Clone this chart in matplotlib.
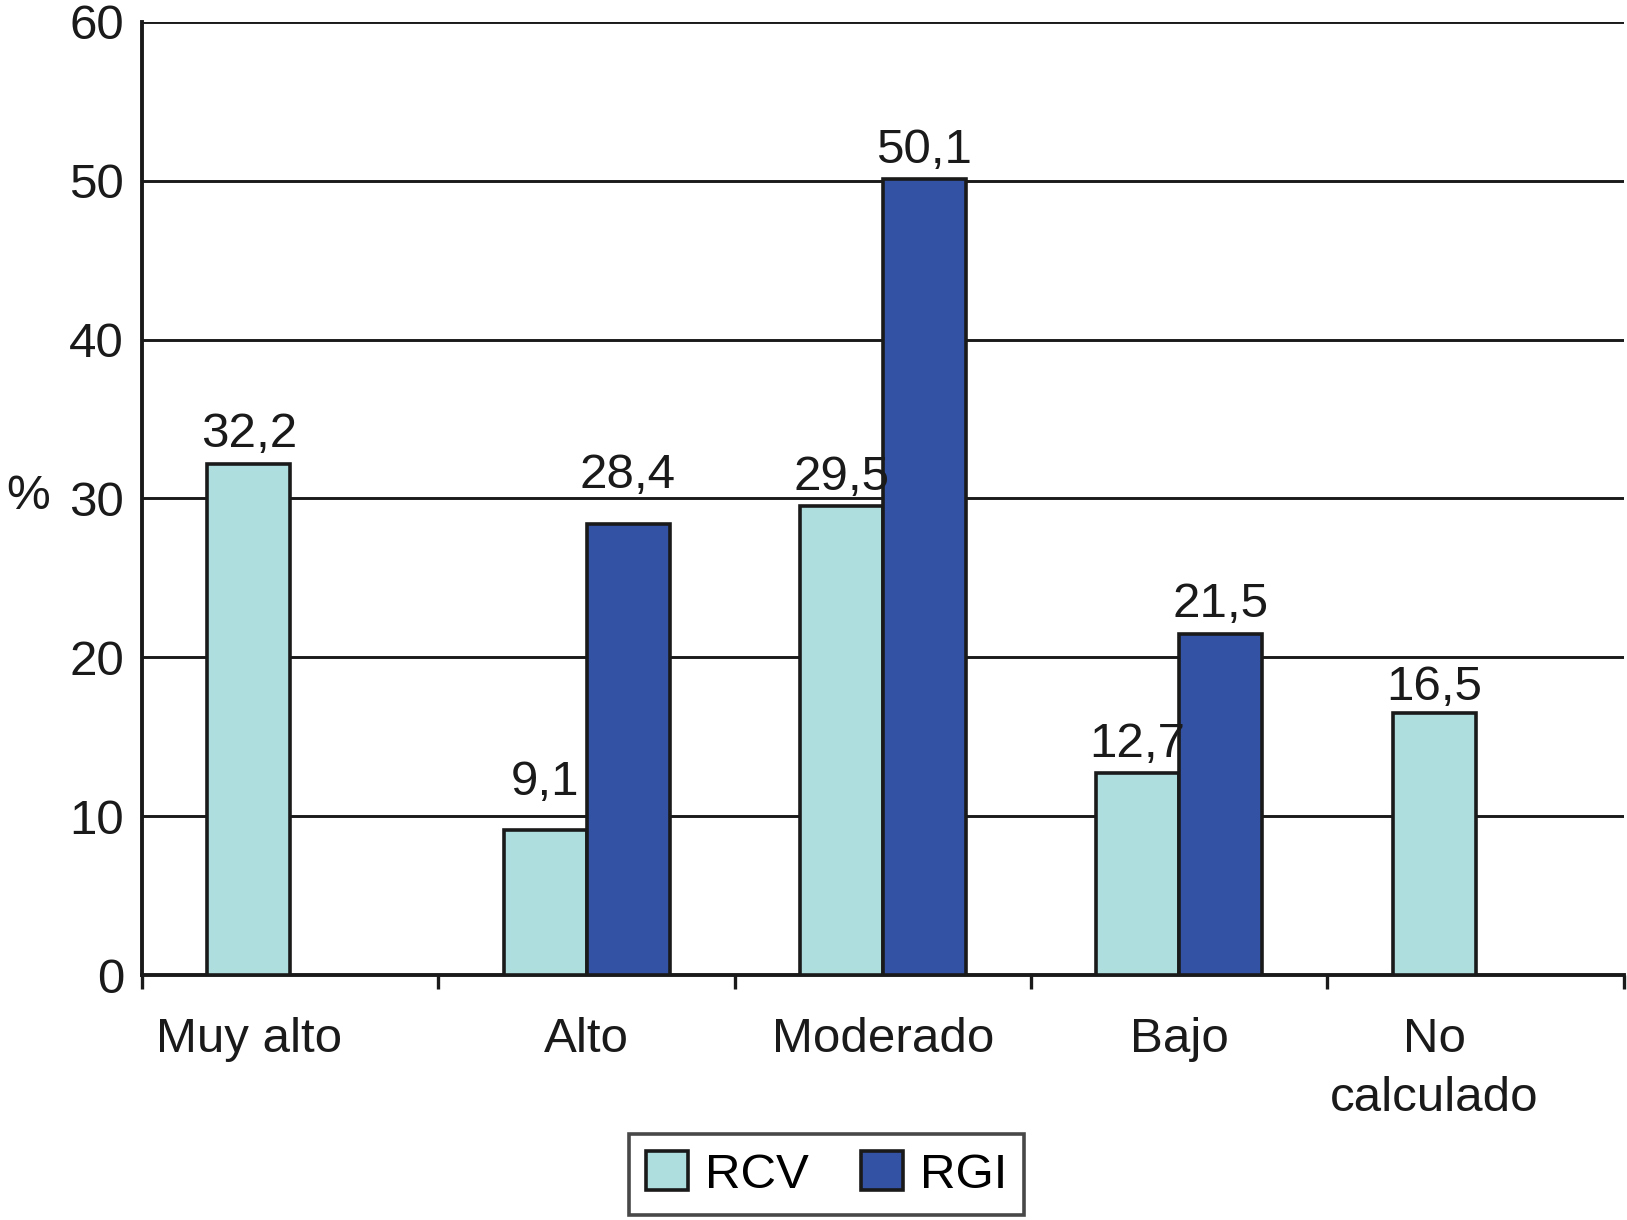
import matplotlib
matplotlib.use("Agg")
import matplotlib.pyplot as plt
from matplotlib.patches import Patch
import numpy as np

categories = ["Muy alto", "Alto", "Moderado", "Bajo", "No\ncalculado"]
rcv = [32.2, 9.1, 29.5, 12.7, 16.5]
rgi = [None, 28.4, 50.1, 21.5, None]
y_ticks = [0, 10, 20, 30, 40, 50, 60]

RCV_COLOR = "#aedede"
RGI_COLOR = "#3452a4"
INK = "#1a1a1a"
FS = 35.5

plt.rcParams["font.family"] = ["Liberation Sans", "DejaVu Sans"]

fig = plt.figure(figsize=(16.27, 12.2), dpi=100)
ax = fig.add_axes([0.0873, 0.2008, 0.9107, 0.7812])

x = np.arange(len(categories))
w = 0.28
# the "Alto" labels sit a bit higher in the original
lift = [0.4, 1.6, 0.4, 0.4, 0.2]


def fmt(v):
    return f"{v:.1f}".replace(".", ",")


for i in range(len(categories)):
    ax.bar(x[i] - w / 2, rcv[i], w, color=RCV_COLOR, edgecolor=INK,
           linewidth=2.6, zorder=3)
    ax.text(x[i] - w / 2, rcv[i] + lift[i], fmt(rcv[i]), ha="center",
            va="bottom", fontsize=FS, color=INK, zorder=4)
    if rgi[i] is not None:
        ax.bar(x[i] + w / 2, rgi[i], w, color=RGI_COLOR, edgecolor=INK,
               linewidth=2.6, zorder=3)
        ax.text(x[i] + w / 2, rgi[i] + lift[i], fmt(rgi[i]), ha="center",
                va="bottom", fontsize=FS, color=INK, zorder=4)

ax.set_xlim(-0.5, len(categories) - 0.5)
ax.set_ylim(0, 60)

# grid lines
for t in y_ticks[1:]:
    ax.axhline(t, color=INK, linewidth=2.1, zorder=1)

ax.set_yticks(y_ticks)
ax.set_yticklabels([str(t) for t in y_ticks])
ax.tick_params(axis="y", length=0, pad=13, labelsize=FS, labelcolor=INK)

# boundary ticks, labels as minor ticks
ax.set_xticks(np.arange(len(categories) + 1) - 0.5)
ax.set_xticklabels([])
ax.tick_params(axis="x", which="major", length=10, width=2.4, color=INK,
               direction="out")
label_pos = [x[i] - w / 2 if rgi[i] is None else x[i] for i in range(len(categories))]
ax.set_xticks(label_pos, minor=True)
ax.set_xticklabels(categories, minor=True, fontsize=FS, color=INK,
                   linespacing=1.4, va="top")
ax.tick_params(axis="x", which="minor", length=0, pad=30)

for s in ["top", "right"]:
    ax.spines[s].set_visible(False)
for s in ["left", "bottom"]:
    ax.spines[s].set_linewidth(2.8)
    ax.spines[s].set_color(INK)

fig.text(0.004, 0.593, "%", fontsize=FS, color=INK, ha="left", va="center")

handles = [Patch(facecolor=RCV_COLOR, edgecolor=INK, linewidth=2.6, label="RCV"),
           Patch(facecolor=RGI_COLOR, edgecolor=INK, linewidth=2.6, label="RGI")]
leg = fig.legend(handles=handles, loc="lower center", bbox_to_anchor=(0.508, 0.0),
                 ncol=2, fontsize=FS, frameon=True, fancybox=False,
                 handlelength=0.85, handleheight=0.85, handletextpad=0.35,
                 columnspacing=1.05, borderpad=0.35, borderaxespad=0.1)
leg.get_frame().set_edgecolor(INK)
leg.get_frame().set_linewidth(2.6)

fig.savefig("out.png", dpi=100, facecolor="white")
